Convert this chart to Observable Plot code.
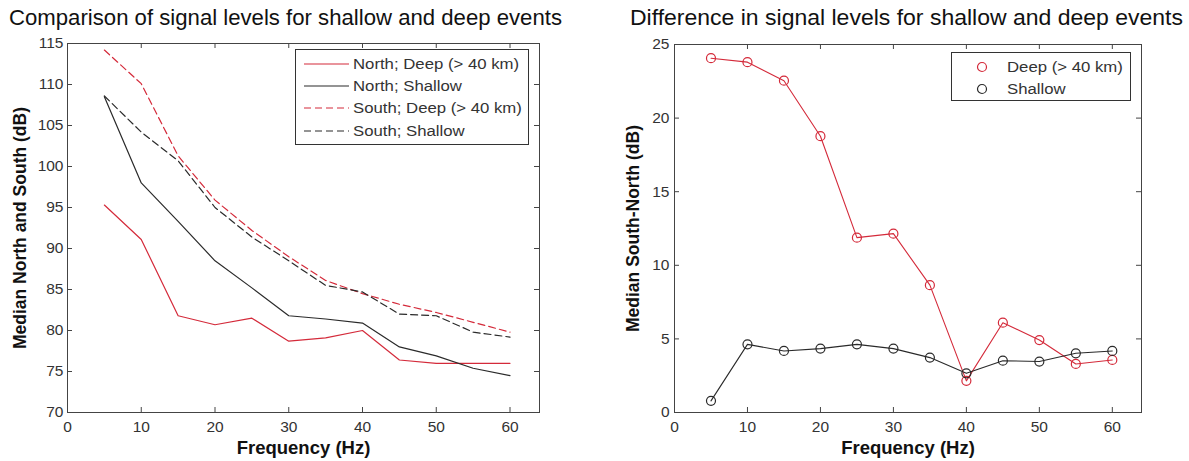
<!DOCTYPE html>
<html><head><meta charset="utf-8">
<script src="https://cdn.jsdelivr.net/npm/d3@7"></script>
<script src="https://cdn.jsdelivr.net/npm/@observablehq/plot@0.6"></script>
<style>
body{margin:0;background:#fff;font-family:"Liberation Sans",Arial,sans-serif;}
#wrap{position:relative;width:1189px;height:461px;overflow:hidden;background:#fff}
.title{position:absolute;top:5px;font-size:21.5px;color:#111;white-space:nowrap;line-height:26px;transform-origin:0 0}
.plot{position:absolute;top:0}
.legend{position:absolute;border:1px solid #333;background:#fff;font-size:15.5px;color:#333;box-sizing:border-box}
.legend .row{position:absolute;white-space:nowrap;line-height:18px;transform-origin:0 50%;transform:scaleX(1.08)}
.legend svg{position:absolute;overflow:visible}
g[aria-label="x-axis label"] text{font-weight:bold;font-size:18.5px;fill:#111}
g[aria-label="y-axis label"] text{font-weight:bold;font-size:17.5px;fill:#111}
</style>
</head><body>
<div id="wrap"></div>
<script>
// ---- data ----
const freq = [5,10,15,20,25,30,35,40,45,50,55,60];
const northDeep    = [95.3,91.1,81.8,80.7,81.5,78.7,79.1,80.0,76.4,76.0,76.0,76.0];
const northShallow = [108.5,98.0,93.3,88.5,85.2,81.8,81.4,80.9,78.0,76.9,75.4,74.5];
const southDeep    = [114.2,110.1,101.3,95.9,92.2,89.0,86.1,84.5,83.2,82.2,81.0,79.8];
const southShallow = [108.6,104.2,100.7,95.0,91.4,88.5,85.5,84.7,82.0,81.8,79.8,79.2];
const diffDeep     = [24.07,23.8,22.54,18.77,11.88,12.15,8.65,2.15,6.1,4.92,3.3,3.57];
const diffShallow  = [0.79,4.63,4.18,4.34,4.63,4.34,3.73,2.66,3.52,3.46,4.02,4.18];
const xTicks = [0,10,20,30,40,50,60];
const yTicksLeft = [70,75,80,85,90,95,100,105,110,115];
const yTicksRight = [0,5,10,15,20,25];
const leftSeries = ["North; Deep (> 40 km)","North; Shallow","South; Deep (> 40 km)","South; Shallow"];
const rightSeries = ["Deep (> 40 km)","Shallow"];
const titleLeft = "Comparison of signal levels for shallow and deep events";
const titleRight = "Difference in signal levels for shallow and deep events";

const RED = "#d42a3a", BLK = "#2a2a2a", FRAME = "#444";
const DASH = "7,4";
const FONT = '"Liberation Sans",Arial,sans-serif';

const rows = (vals) => freq.map((f,i)=>({f, v: vals[i]}));

// ---- left chart ----
{
  const W=560,H=461,mL=67,mR=21,mT=43,mB=49;
  const iw=W-mL-mR, ih=H-mT-mB;
  const p = Plot.plot({
    width:W,height:H,marginLeft:mL,marginRight:mR,marginTop:mT,marginBottom:mB,
    x:{domain:[0,64]}, y:{domain:[70,115]},
    style:{fontFamily:FONT,fontSize:"15.5px",color:"#333",background:"transparent",overflow:"visible"},
    marks:[
      Plot.frame({stroke:FRAME}),
      Plot.tickX(xTicks,{x:d=>d, insetTop:ih-5, stroke:FRAME}),
      Plot.tickX(xTicks,{x:d=>d, insetBottom:ih-5, stroke:FRAME}),
      Plot.tickY(yTicksLeft,{y:d=>d, insetRight:iw-5, stroke:FRAME}),
      Plot.tickY(yTicksLeft,{y:d=>d, insetLeft:iw-5, stroke:FRAME}),
      Plot.line(rows(northDeep),{x:"f",y:"v",stroke:RED,strokeWidth:1.2}),
      Plot.line(rows(northShallow),{x:"f",y:"v",stroke:BLK,strokeWidth:1.2}),
      Plot.line(rows(southDeep),{x:"f",y:"v",stroke:RED,strokeWidth:1.2,strokeDasharray:DASH}),
      Plot.line(rows(southShallow),{x:"f",y:"v",stroke:BLK,strokeWidth:1.2,strokeDasharray:DASH}),
      Plot.axisX({ticks:xTicks,tickSize:0,tickPadding:8,label:"Frequency (Hz)",labelAnchor:"center",labelOffset:41,labelArrow:"none"}),
      Plot.axisY({ticks:yTicksLeft,tickSize:0,tickPadding:4,label:"Median North and South (dB)",labelAnchor:"center",labelOffset:54,labelArrow:"none"})
    ]
  });
  p.classList.add("plot"); p.style.left="0px";
  document.getElementById("wrap").appendChild(p);
}

// ---- right chart ----
{
  const W=589,H=461,mL=74,mR=48,mT=44,mB=49;
  const iw=W-mL-mR, ih=H-mT-mB;
  const p = Plot.plot({
    width:W,height:H,marginLeft:mL,marginRight:mR,marginTop:mT,marginBottom:mB,
    x:{domain:[0,64]}, y:{domain:[0,25]},
    style:{fontFamily:FONT,fontSize:"15.5px",color:"#333",background:"transparent",overflow:"visible"},
    marks:[
      Plot.frame({stroke:FRAME}),
      Plot.tickX(xTicks,{x:d=>d, insetTop:ih-5, stroke:FRAME}),
      Plot.tickX(xTicks,{x:d=>d, insetBottom:ih-5, stroke:FRAME}),
      Plot.tickY(yTicksRight,{y:d=>d, insetRight:iw-5, stroke:FRAME}),
      Plot.tickY(yTicksRight,{y:d=>d, insetLeft:iw-5, stroke:FRAME}),
      Plot.line(rows(diffDeep),{x:"f",y:"v",stroke:RED,strokeWidth:1.1}),
      Plot.dot(rows(diffDeep),{x:"f",y:"v",stroke:RED,r:4.5,strokeWidth:1.2}),
      Plot.line(rows(diffShallow),{x:"f",y:"v",stroke:BLK,strokeWidth:1.1}),
      Plot.dot(rows(diffShallow),{x:"f",y:"v",stroke:BLK,r:4.5,strokeWidth:1.2}),
      Plot.axisX({ticks:xTicks,tickSize:0,tickPadding:8,label:"Frequency (Hz)",labelAnchor:"center",labelOffset:41,labelArrow:"none"}),
      Plot.axisY({ticks:yTicksRight,tickSize:0,tickPadding:5,label:"Median South-North (dB)",labelAnchor:"center",labelOffset:48,labelArrow:"none"})
    ]
  });
  p.classList.add("plot"); p.style.left="600px";
  document.getElementById("wrap").appendChild(p);
}

// ---- titles ----
const wrap = document.getElementById("wrap");
function addTitle(text, left, right){
  const d=document.createElement("div"); d.className="title"; d.textContent=text; d.style.left=left+"px";
  wrap.appendChild(d);
  const w=d.getBoundingClientRect().width;
  d.style.transform=`scaleX(${(right-left)/w})`;
}
addTitle(titleLeft, 9, 562);
addTitle(titleRight, 630, 1183);

// ---- legends ----
const NS="http://www.w3.org/2000/svg";
function legendLeft(){
  const box=document.createElement("div"); box.className="legend";
  Object.assign(box.style,{left:"295px",top:"49px",width:"234px",height:"96px"});
  const styles=[[RED,null],[BLK,null],[RED,DASH],[BLK,DASH]];
  leftSeries.forEach((name,i)=>{
    const y=14+i*22.2;
    const s=document.createElementNS(NS,"svg");
    s.setAttribute("width",46);s.setAttribute("height",4);
    s.style.left="8px"; s.style.top=(y-2)+"px";
    const ln=document.createElementNS(NS,"line");
    ln.setAttribute("x1",0);ln.setAttribute("x2",45);ln.setAttribute("y1",2);ln.setAttribute("y2",2);
    ln.setAttribute("stroke",styles[i][0]);ln.setAttribute("stroke-width",1.2);
    if(styles[i][1]) ln.setAttribute("stroke-dasharray",styles[i][1]);
    s.appendChild(ln); box.appendChild(s);
    const r=document.createElement("div"); r.className="row"; r.textContent=name;
    r.style.left="57px"; r.style.top=(y-9)+"px"; box.appendChild(r);
  });
  wrap.appendChild(box);
}
function legendRight(){
  const box=document.createElement("div"); box.className="legend";
  Object.assign(box.style,{left:"951px",top:"52px",width:"180px",height:"49px"});
  const cols=[RED,BLK];
  rightSeries.forEach((name,i)=>{
    const y=13.5+i*22;
    const s=document.createElementNS(NS,"svg");
    s.setAttribute("width",12);s.setAttribute("height",12);
    s.style.left="24px"; s.style.top=(y-6)+"px";
    const c=document.createElementNS(NS,"circle");
    c.setAttribute("cx",6);c.setAttribute("cy",6);c.setAttribute("r",4.5);
    c.setAttribute("fill","none");c.setAttribute("stroke",cols[i]);c.setAttribute("stroke-width",1.2);
    s.appendChild(c); box.appendChild(s);
    const r=document.createElement("div"); r.className="row"; r.textContent=name;
    r.style.left="55px"; r.style.top=(y-9)+"px"; box.appendChild(r);
  });
  wrap.appendChild(box);
}
legendLeft(); legendRight();
</script>
</body></html>
